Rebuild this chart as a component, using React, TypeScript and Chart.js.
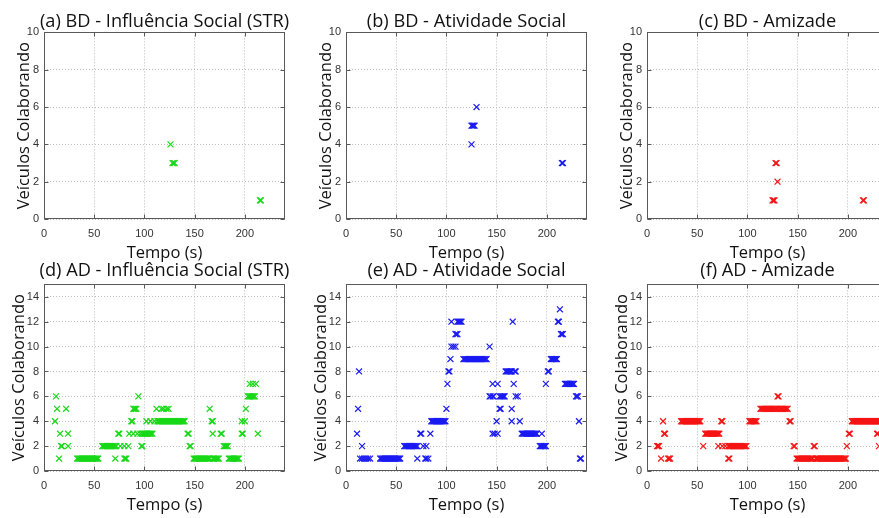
import React, { useEffect, useRef } from "react";
import { Chart, registerables } from "chart.js";

Chart.register(...registerables);

// Each series: [number of collaborating vehicles, times (s) at which that value was logged]
type Series = [number, number[]][];

const bdInfluencia: Series = [
  [4, [126]],
  [3, [128, 129, 130]],
  [1, [215, 216]],
];

const bdAtividade: Series = [
  [6, [130]],
  [5, [125, 126, 127, 128]],
  [4, [125]],
  [3, [215, 216]],
];

const bdAmizade: Series = [
  [3, [128, 129]],
  [2, [130]],
  [1, [125, 126, 127, 215, 216]],
];

const adInfluencia: Series = [
  [1, [15, 33, 34, 35, 36, 37, 38, 39, 40, 41, 42, 43, 44, 45, 46, 47, 48, 49, 50, 51, 52, 53, 54,
    71, 80, 81, 82,
    149, 150, 151, 152, 153, 154, 155, 156, 157, 158, 159, 160, 161, 162, 163, 164, 165,
    168, 169, 170, 171, 172, 173, 174,
    184, 185, 186, 187, 188, 189, 190, 191, 192, 193, 194]],
  [2, [17, 18, 24, 58, 59, 60, 61, 62, 63, 64, 65, 66, 67, 68, 69, 70, 71, 72, 76, 80, 84,
    97, 98, 145, 146, 179, 180, 181, 182, 183]],
  [3, [16, 24, 74, 75, 85, 89, 93, 96, 98, 99, 100, 101, 102, 103, 104, 105, 106, 107, 108,
    143, 144, 168, 176, 177, 197, 198, 213]],
  [4, [11, 87, 88, 102, 106, 110, 113, 114, 115, 116, 117, 118, 119, 120, 121, 122, 123, 124, 125,
    126, 127, 128, 129, 130, 131, 132, 133, 134, 135, 136, 137, 138, 139, 140, 167, 168, 197, 200]],
  [5, [13, 22, 89, 90, 91, 92, 112, 117, 119, 122, 124, 165, 201]],
  [6, [12, 94, 203, 204, 205, 206, 207, 208, 209, 210]],
  [7, [205, 208, 211]],
];

const adAtividade: Series = [
  [1, [14, 16, 18, 20, 22, 24, 34, 35, 36, 37, 38, 39, 40, 41, 42, 43, 44, 45, 46, 47, 48, 49, 50,
    51, 52, 53, 54, 71, 79, 80, 82, 233, 234]],
  [2, [16, 58, 59, 60, 61, 62, 63, 64, 65, 66, 67, 68, 69, 70, 71, 77, 80,
    193, 194, 195, 196, 197, 198, 199]],
  [3, [11, 74, 75, 84, 146, 148, 151, 175, 176, 177, 178, 179, 180, 181, 182, 183, 184, 185, 186,
    187, 188, 189, 190, 195]],
  [4, [85, 86, 87, 88, 89, 90, 91, 92, 93, 94, 95, 96, 97, 98, 99, 150, 165, 173, 232]],
  [5, [12, 100, 153, 154, 165]],
  [6, [143, 144, 146, 147, 153, 154, 155, 156, 157, 158, 169, 171, 229, 230, 231]],
  [7, [101, 146, 151, 167, 199, 218, 219, 220, 221, 222, 223, 224, 225, 226, 227]],
  [8, [13, 102, 103, 159, 160, 161, 162, 163, 164, 165, 168, 169, 201, 202]],
  [9, [104, 117, 118, 119, 120, 121, 122, 123, 124, 125, 126, 127, 128, 129, 130, 131, 132, 133,
    134, 135, 136, 137, 138, 139, 140, 204, 205, 206, 207, 208, 209, 210]],
  [10, [105, 107, 109, 143]],
  [11, [109, 110, 111, 214, 215, 216]],
  [12, [105, 111, 112, 113, 114, 115, 166, 211, 212]],
  [13, [213]],
];

const adAmizade: Series = [
  [1, [14, 21, 22, 23, 81, 82,
    149, 150, 151, 152, 153, 154, 155, 156, 157, 158, 159, 160, 161, 162, 163, 164, 165,
    168, 169, 170, 171, 172, 173, 174, 175, 176, 177, 178, 179, 180, 181, 182, 183, 184, 185,
    186, 187, 188, 189, 190, 191, 192, 193, 194, 195, 196, 197, 198]],
  [2, [10, 11, 12, 56, 71, 75, 78, 81, 82, 83, 84, 85, 86, 87, 88, 89, 90, 91, 92, 93, 94, 95, 96,
    97, 98, 99, 146, 147, 166, 167, 199, 231]],
  [3, [17, 18, 58, 59, 60, 61, 62, 63, 64, 65, 66, 67, 68, 69, 70, 71, 72, 201, 202, 229, 230]],
  [4, [16, 34, 35, 36, 37, 38, 39, 40, 41, 42, 43, 44, 45, 46, 47, 48, 49, 50, 51, 52, 53, 74, 75,
    102, 103, 104, 105, 106, 107, 108, 109, 142, 143,
    204, 205, 206, 207, 208, 209, 210, 211, 212, 213, 214, 215, 216, 217, 218, 219, 220, 221, 222,
    223, 224, 225, 226, 227, 228, 229, 230, 231, 232, 233]],
  [5, [113, 114, 115, 116, 117, 118, 119, 120, 121, 122, 123, 124, 125, 126, 127, 128, 129, 130,
    132, 133, 134, 135, 136, 137, 138, 139, 140]],
  [6, [130, 131]],
];

const panelTitles = [
  "(a) BD - Influência Social (STR)",
  "(b) BD - Atividade Social",
  "(c) BD - Amizade",
  "(d) AD - Influência Social (STR)",
  "(e) AD - Atividade Social",
  "(f) AD - Amizade",
];
const panelSeries = [bdInfluencia, bdAtividade, bdAmizade, adInfluencia, adAtividade, adAmizade];

const GREEN = "#18d818";
const BLUE = "#1a1af2";
const RED = "#f51414";
const panelColors = [GREEN, BLUE, RED, GREEN, BLUE, RED];

const xLabel = "Tempo (s)";
const yLabel = "Veículos Colaborando";
const xMax = 240;
const xStep = 50;
const yMaxRow = [10, 15];
const yStep = 2;

// layout: each canvas is symmetric around its plot area (44px axis band on both sides)
const COLS = [0, 302, 603];
const ROWS = [0, 252];
const CW = 329;
const CH = 264;

const TEXT_FONT = '"Open Sans", "Liberation Sans", sans-serif';
const TICK_FONT = '"Liberation Sans", Arial, sans-serif';

const framePlugin = {
  id: "gnuFrame",
  afterDatasetsDraw(chart: any) {
    const { ctx, chartArea: a, scales } = chart;
    ctx.save();
    ctx.strokeStyle = "#595959";
    ctx.lineWidth = 1;
    ctx.setLineDash([]);
    const L = Math.round(a.left) + 0.5;
    const R = Math.round(a.right) - 0.5;
    const T = Math.round(a.top) + 0.5;
    const B = Math.round(a.bottom) - 0.5;
    ctx.strokeRect(L, T, R - L, B - T);
    ctx.beginPath();
    scales.x.ticks.forEach((t: any) => {
      const x = Math.round(scales.x.getPixelForValue(t.value)) + 0.5;
      ctx.moveTo(x, B);
      ctx.lineTo(x, B - 4);
      ctx.moveTo(x, T);
      ctx.lineTo(x, T + 4);
    });
    scales.y.ticks.forEach((t: any) => {
      const y = Math.round(scales.y.getPixelForValue(t.value)) + 0.5;
      ctx.moveTo(L, y);
      ctx.lineTo(L + 4, y);
      ctx.moveTo(R, y);
      ctx.lineTo(R - 4, y);
    });
    ctx.stroke();
    ctx.restore();
  },
};

function makeChart(canvas: HTMLCanvasElement, i: number) {
  const row = i < 3 ? 0 : 1;
  const color = panelColors[i];
  const points = panelSeries[i].flatMap(([v, ts]) => ts.map((t) => ({ x: t, y: v })));
  return new Chart(canvas, {
    type: "scatter",
    data: {
      datasets: [
        {
          data: points,
          pointStyle: "crossRot",
          pointRadius: 4.2,
          pointBorderWidth: 1.2,
          borderColor: color,
          backgroundColor: color,
          showLine: false,
        } as any,
      ],
    },
    options: {
      animation: false,
      responsive: false,
      events: [],
      layout: { padding: 0 },
      plugins: {
        legend: { display: false },
        tooltip: { enabled: false },
        title: {
          display: true,
          text: panelTitles[i],
          color: "#111",
          font: { family: TEXT_FONT, size: 18.2, weight: "normal", lineHeight: 1.2 },
          padding: row === 0 ? { top: 10.5, bottom: 0.06 } : { top: 7.6, bottom: 2.96 },
        },
      },
      scales: {
        x: {
          type: "linear",
          min: 0,
          max: xMax,
          afterFit: (s: any) => {
            s.height = 45;
          },
          ticks: {
            stepSize: xStep,
            includeBounds: false,
            autoSkip: false,
            maxRotation: 0,
            padding: 8,
            color: "#333",
            font: { family: TICK_FONT, size: 11 },
          },
          grid: { color: "#bcbcbc", lineWidth: 1, drawTicks: false },
          border: { display: false, dash: [1, 2] },
          title: {
            display: true,
            text: xLabel,
            color: "#111",
            font: { family: TEXT_FONT, size: 16.5, lineHeight: 1.2 },
            padding: { top: 0, bottom: 1 },
          },
        },
        y: {
          type: "linear",
          min: 0,
          max: yMaxRow[row],
          afterFit: (s: any) => {
            s.width = 44;
          },
          ticks: {
            stepSize: yStep,
            includeBounds: false,
            autoSkip: false,
            padding: 5,
            color: "#333",
            font: { family: TICK_FONT, size: 11 },
          },
          grid: { color: "#bcbcbc", lineWidth: 1, drawTicks: false },
          border: { display: false, dash: [1, 2] },
          title: {
            display: true,
            text: yLabel,
            color: "#111",
            font: { family: TEXT_FONT, size: 16.5, lineHeight: 1.2 },
            padding: { top: row === 0 ? 14 : 9, bottom: 0 },
          },
        },
        // empty mirror band on the right so the panel title centres over the plot
        yMirror: {
          type: "linear",
          axis: "y",
          position: "right",
          min: 0,
          max: yMaxRow[row],
          afterFit: (s: any) => {
            s.width = 44;
          },
          ticks: { display: false },
          grid: { display: false, drawTicks: false },
          border: { display: false },
          title: { display: false },
        },
      },
    } as any,
    plugins: [framePlugin],
  });
}

export default function App() {
  const refs = useRef<(HTMLCanvasElement | null)[]>([]);
  useEffect(() => {
    const charts = refs.current.map((c, i) => (c ? makeChart(c, i) : null));
    return () => charts.forEach((ch) => ch && ch.destroy());
  }, []);
  return (
    <div
      style={{
        position: "fixed",
        left: 0,
        top: 0,
        width: 879,
        height: 518,
        overflow: "hidden",
        background: "#fff",
      }}
    >
      {panelTitles.map((_, i) => (
        <canvas
          key={i}
          ref={(el) => {
            refs.current[i] = el;
          }}
          width={CW}
          height={CH}
          style={{
            position: "absolute",
            left: COLS[i % 3],
            top: ROWS[Math.floor(i / 3)],
            width: CW,
            height: CH,
          }}
        />
      ))}
    </div>
  );
}
